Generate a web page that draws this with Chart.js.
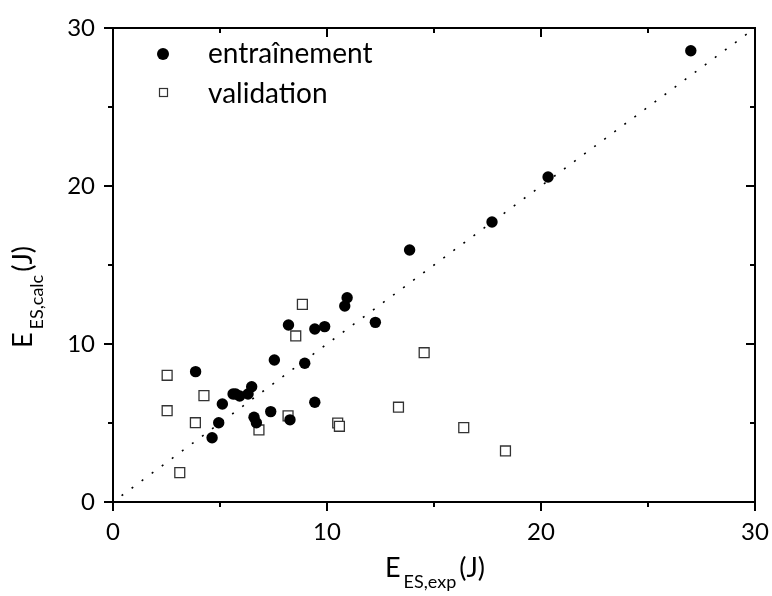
<!DOCTYPE html>
<html>
<head>
<meta charset="utf-8">
<script src="https://cdn.jsdelivr.net/npm/chart.js@4"></script>
<style>
  html, body { margin: 0; padding: 0; background: #fff; }
  #wrap { width: 772px; height: 596px; position: relative; }
</style>
</head>
<body>
<div id="wrap"><canvas id="scatterGraph"></canvas></div>
<script>
// valeurs
const trainX = [3.86, 5.11, 4.94, 4.63, 5.61, 5.73, 5.92, 6.31, 6.48, 6.59, 6.70, 7.37, 7.54, 8.20, 8.27, 8.96, 9.43, 9.89, 9.43, 10.83, 10.94, 12.26, 13.86, 17.71, 20.33, 27.00];
const trainY = [8.25, 6.20, 5.02, 4.07, 6.84, 6.84, 6.71, 6.84, 7.30, 5.36, 5.02, 5.72, 8.99, 11.20, 5.20, 8.78, 10.95, 11.10, 6.31, 12.40, 12.93, 11.37, 15.95, 17.72, 20.57, 28.56];

const validX = [2.53, 2.53, 3.85, 4.25, 3.12, 6.82, 8.18, 8.54, 8.85, 10.50, 10.58, 14.54, 13.34, 16.39, 18.34];
const validY = [8.02, 5.78, 5.02, 6.73, 1.86, 4.56, 5.45, 10.51, 12.51, 5.00, 4.79, 9.45, 6.00, 4.71, 3.23];

// droite y = x
const diagX = [0.4, 30];
const diagY = [0.4, 30];

const seriesLabels = ['entraînement', 'validation'];
const xTicks = [0, 10, 20, 30];
const yTicks = [0, 10, 20, 30];

const FONT = 'Lato';

const toPoints = (xs, ys) => xs.map((x, i) => ({ x: x, y: ys[i] }));

// cadre + graduations (dehors à gauche/en bas, dedans en haut/à droite)
const framePlugin = {
    id: 'frame',
    afterDatasetsDraw(chart) {
        const { ctx, chartArea: a, scales } = chart;
        ctx.save();
        ctx.strokeStyle = '#000';
        ctx.lineWidth = 2;
        ctx.strokeRect(a.left, a.top, a.right - a.left, a.bottom - a.top);
        for (let v = 0; v <= 30; v += 5) {
            const len = v % 10 === 0 ? 9 : 5;
            const px = Math.round(scales.x.getPixelForValue(v));
            const py = Math.round(scales.y.getPixelForValue(v));
            ctx.beginPath();
            ctx.moveTo(px, a.bottom); ctx.lineTo(px, a.bottom + len);
            ctx.moveTo(px, a.top); ctx.lineTo(px, a.top + len);
            ctx.moveTo(a.left, py); ctx.lineTo(a.left - len, py);
            ctx.moveTo(a.right, py); ctx.lineTo(a.right - len, py);
            ctx.stroke();
        }
        ctx.restore();
    }
};

// texte avec indice
function drawSub(ctx, main, sub, rest, cx, baseline) {
    ctx.font = '27px ' + FONT;
    const wMain = ctx.measureText(main).width;
    const wRest = ctx.measureText(rest).width;
    ctx.font = '18px ' + FONT;
    const wSub = ctx.measureText(sub).width;
    const gap = 3;
    const total = wMain + gap + wSub + gap + wRest;
    let x = cx - total / 2;
    ctx.textAlign = 'left';
    ctx.textBaseline = 'alphabetic';
    ctx.font = '27px ' + FONT;
    ctx.fillText(main, x, baseline);
    x += wMain + gap;
    ctx.font = '18px ' + FONT;
    ctx.fillText(sub, x, baseline + 11);
    x += wSub + gap;
    ctx.font = '27px ' + FONT;
    ctx.fillText(rest, x, baseline);
}

const titlesPlugin = {
    id: 'titles',
    afterDraw(chart) {
        const { ctx, chartArea: a } = chart;
        ctx.save();
        ctx.fillStyle = '#000';
        drawSub(ctx, 'E', 'ES,exp', '(J)', (a.left + a.right) / 2 + 1, 577);
        ctx.translate(32, 297);
        ctx.rotate(-Math.PI / 2);
        drawSub(ctx, 'E', 'ES,calc', '(J)', 0, 0);
        ctx.restore();

        // légende
        ctx.save();
        ctx.fillStyle = '#000';
        ctx.beginPath();
        ctx.arc(163, 54, 6, 0, Math.PI * 2);
        ctx.fill();
        ctx.strokeStyle = '#333';
        ctx.lineWidth = 1.2;
        ctx.strokeRect(159.5, 88.5, 8, 8);
        ctx.font = '28px ' + FONT;
        ctx.textBaseline = 'alphabetic';
        ctx.textAlign = 'left';
        ctx.fillText(chart.data.datasets[0].label, 208, 63);
        ctx.fillText(chart.data.datasets[1].label, 208, 103);
        ctx.restore();
    }
};

new Chart(document.getElementById('scatterGraph').getContext('2d'), {
    type: 'scatter',
    data: {
        datasets: [
            {
                label: seriesLabels[0],
                data: toPoints(trainX, trainY),
                pointStyle: 'circle',
                pointRadius: 5.7,
                backgroundColor: '#000',
                borderColor: '#000',
                borderWidth: 0,
                order: 1
            },
            {
                label: seriesLabels[1],
                data: toPoints(validX, validY),
                pointStyle: 'rect',
                pointRadius: 7,
                backgroundColor: '#fff',
                borderColor: '#333',
                borderWidth: 1.3,
                order: 2
            },
            {
                type: 'line',
                label: 'y=x',
                data: toPoints(diagX, diagY),
                borderColor: '#000',
                borderWidth: 1.6,
                borderDash: [2, 10.5],
                pointRadius: 0,
                fill: false,
                order: 3
            }
        ]
    },
    options: {
        responsive: true,
        maintainAspectRatio: false,
        animation: false,
        layout: { padding: { top: 28, right: 17, left: 0, bottom: 0 } },
        plugins: {
            legend: { display: false },
            tooltip: { enabled: false }
        },
        scales: {
            x: {
                type: 'linear',
                min: 0,
                max: 30,
                afterFit: s => { s.height = 94; s.paddingLeft = 0; s.paddingRight = 0; },
                afterBuildTicks: s => { s.ticks = xTicks.map(v => ({ value: v })); },
                ticks: { color: '#000', font: { family: FONT, size: 24 }, padding: 16, maxRotation: 0 },
                grid: { display: false, drawTicks: false },
                border: { display: false }
            },
            y: {
                type: 'linear',
                min: 0,
                max: 30,
                afterFit: s => { s.width = 113; s.paddingTop = 0; s.paddingBottom = 0; },
                afterBuildTicks: s => { s.ticks = yTicks.map(v => ({ value: v })); },
                ticks: { color: '#000', font: { family: FONT, size: 24 }, padding: 18 },
                grid: { display: false, drawTicks: false },
                border: { display: false }
            }
        }
    },
    plugins: [framePlugin, titlesPlugin]
});
</script>
</body>
</html>
